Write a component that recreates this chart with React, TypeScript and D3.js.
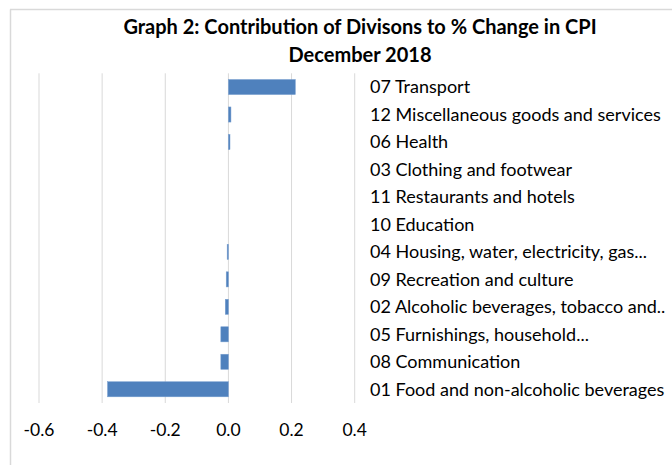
import React from "react";
import * as d3 from "d3";

const categories = [
  "07 Transport",
  "12 Miscellaneous goods and services",
  "06 Health",
  "03 Clothing and footwear",
  "11 Restaurants and hotels",
  "10 Education",
  "04 Housing, water, electricity, gas...",
  "09 Recreation and culture",
  "02 Alcoholic beverages, tobacco and..",
  "05 Furnishings, household...",
  "08 Communication",
  "01 Food and non-alcoholic beverages",
];
const values = [0.212, 0.008, 0.005, 0, 0, 0, -0.004, -0.007, -0.01, -0.024, -0.024, -0.383];
const ticks = [-0.6, -0.4, -0.2, 0.0, 0.2, 0.4];
const titleLines = ["Graph 2: Contribution of Divisons to % Change in CPI", "December 2018"];

const W = 672;
const H = 465;

export default function App() {
  const x = d3.scaleLinear().domain([-0.6, 0.4]).range([39, 354.7]);
  const y = d3.scaleBand<string>().domain(categories).range([73.3, 403]).paddingInner(0.45).paddingOuter(0.225);
  const font = "Lato, 'Open Sans', sans-serif";
  return (
    <svg width={W} height={H} style={{ position: "absolute", left: 0, top: 0 }}>
      <rect x={0} y={0} width={W} height={H} fill="#fff" />
      <line x1={10} x2={W} y1={9.5} y2={9.5} stroke="#d9d9d9" strokeWidth={1.5} />
      <line x1={10.5} x2={10.5} y1={9.5} y2={H} stroke="#d9d9d9" strokeWidth={1.5} />
      {titleLines.map((t, i) => (
        <text key={i} x={360} y={34 + i * 28} textAnchor="middle" fontFamily={font} fontWeight="bold" fontSize={20} fill="#000">
          {t}
        </text>
      ))}
      {ticks.map((t) => (
        <g key={t}>
          <line x1={x(t)} x2={x(t)} y1={73.3} y2={403} stroke="#d9d9d9" strokeWidth={1} />
          <text x={x(t)} y={436} textAnchor="middle" fontFamily={font} fontSize={17.5} fill="#000">
            {d3.format(".1f")(t).replace("−", "-")}
          </text>
        </g>
      ))}
      {categories.map((c, i) => {
        const v = values[i];
        const x0 = Math.min(x(0), x(v));
        const w = Math.abs(x(v) - x(0));
        return (
          <g key={c}>
            {w > 0 && <rect x={x0} y={y(c)} width={w} height={y.bandwidth()} fill="#4f81bd" stroke="#7aa0d0" strokeWidth={0.5} />}
            <text x={370} y={(y(c) as number) + y.bandwidth() / 2} dy="0.35em" fontFamily={font} fontSize={18} fill="#000">
              {c}
            </text>
          </g>
        );
      })}
    </svg>
  );
}
